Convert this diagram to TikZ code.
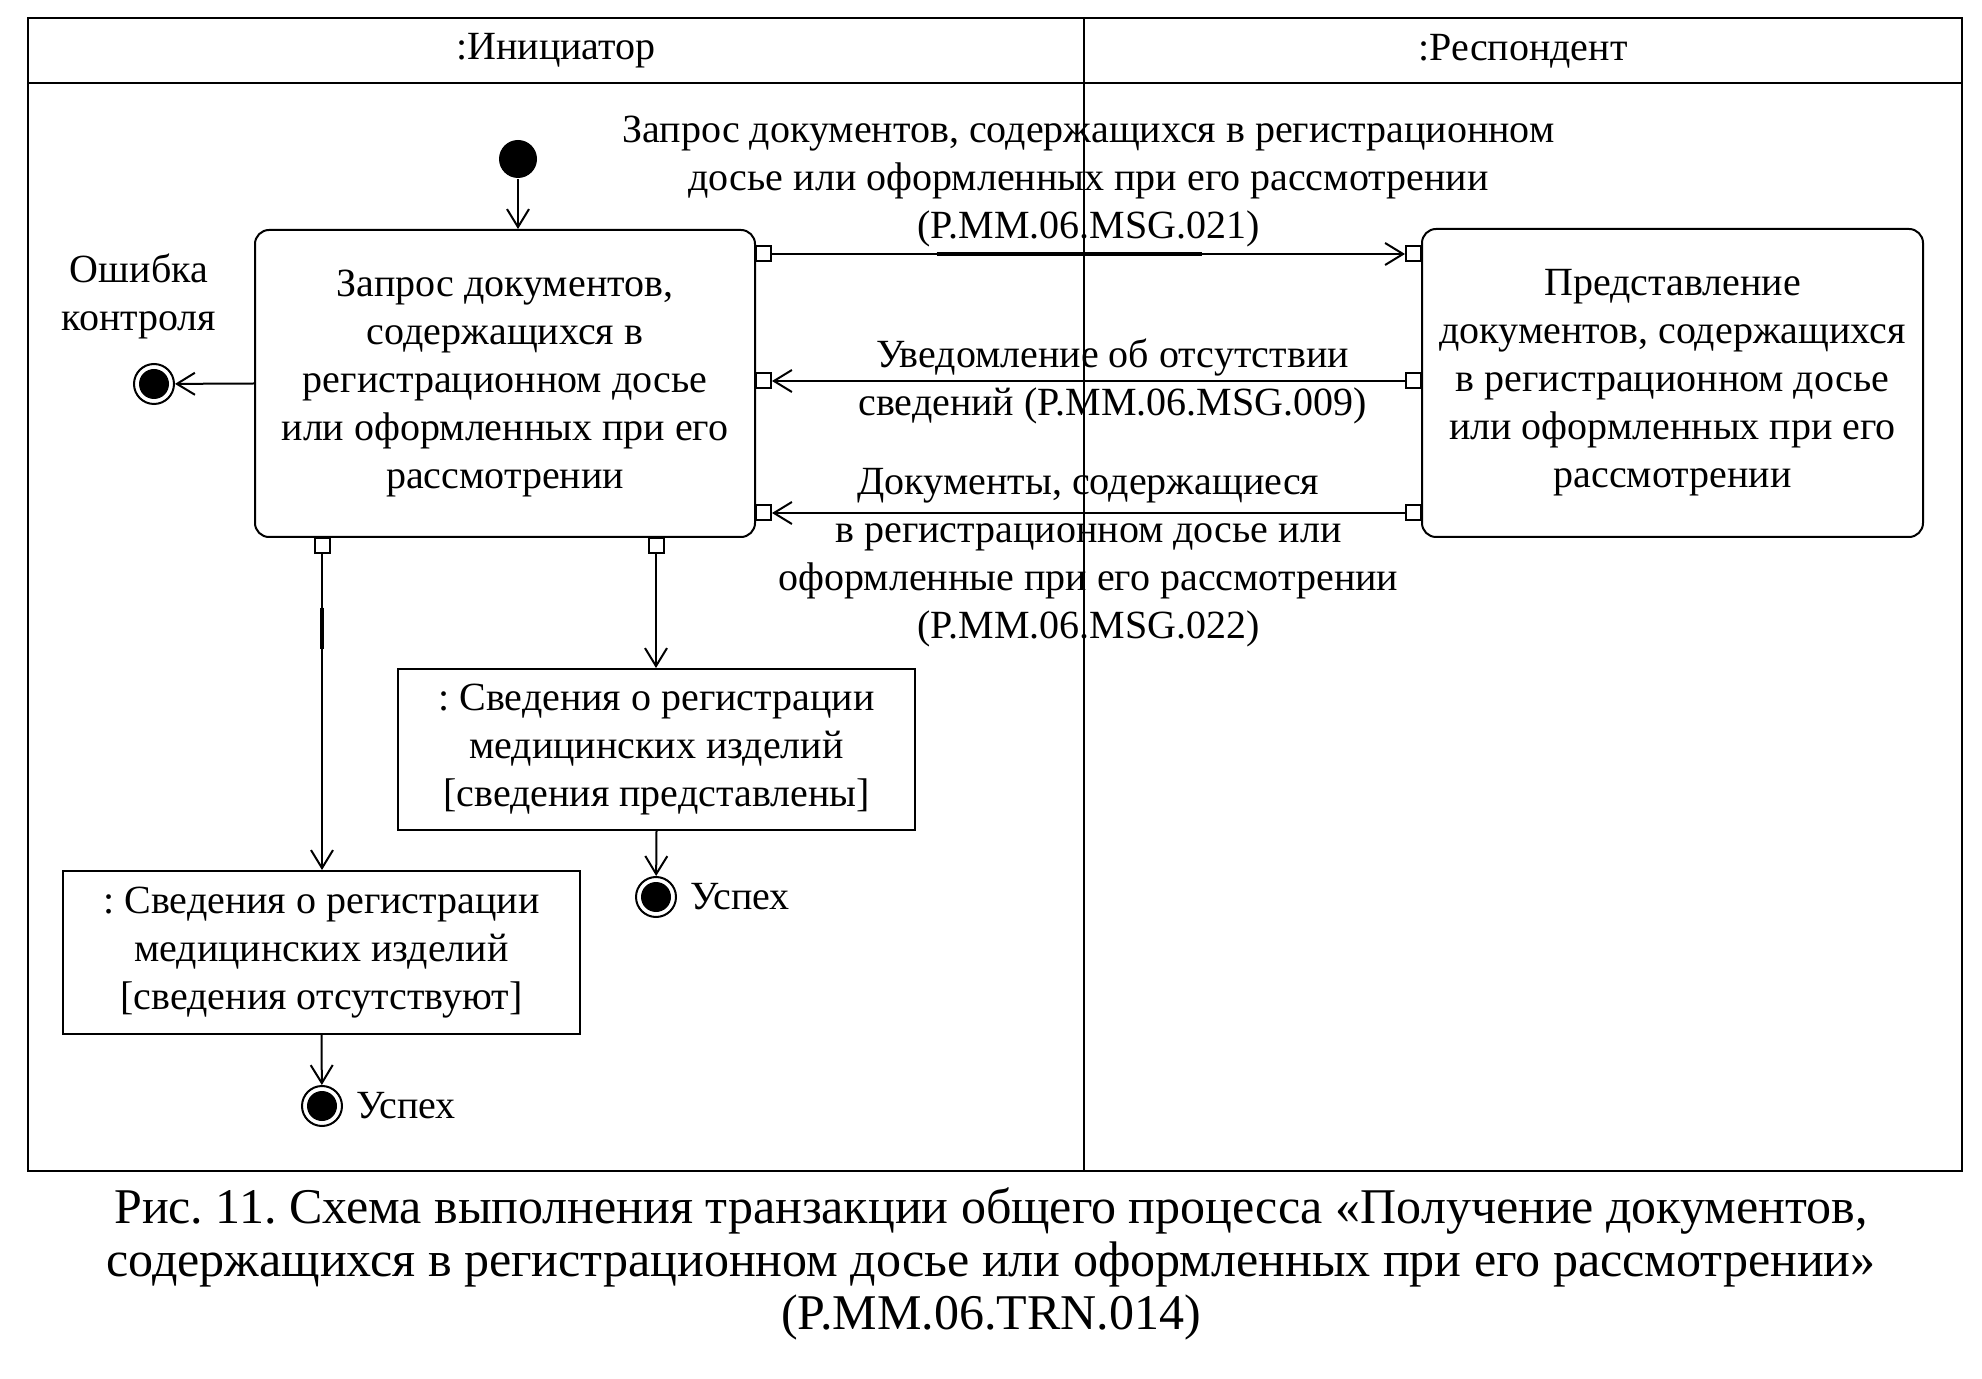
\documentclass[tikz,border=0pt]{standalone}
\usepackage{fontspec}
\setmainfont{Liberation Serif}
\usetikzlibrary{arrows.meta,positioning,calc}
\frenchspacing
\newcommand{\trnfont}{\fontsize{20}{24}\selectfont}
\tikzset{
  trnact/.style={draw,rounded corners=7pt,fill=white,align=center,inner sep=0pt,font=\trnfont},
  trnobj/.style={draw,fill=white,align=center,inner sep=0pt,font=\trnfont},
  trnpin/.style={draw,fill=white,minimum size=7.5pt,inner sep=0pt},
  trnstart/.style={circle,fill,minimum size=19pt,inner sep=0pt},
  trnend/.style={circle,draw,fill=white,minimum size=20pt,inner sep=0pt,path picture={\fill[black] (path picture bounding box.center) circle (7.5pt);}},
  trnflow/.style={-{Straight Barb[length=9pt,width=11pt]}},
  trnlabel/.style={align=center,inner sep=0pt,font=\trnfont},
}

\begin{document}
\begin{tikzpicture}[x=0.5pt,y=-0.5pt,line width=1pt]
\useasboundingbox (0,0) rectangle (1982,1379);
% swimlanes
\draw[line width=1.3pt] (28,18) rectangle (1962,1171);
\draw (28,83) -- (1962,83);
\draw (1084,18) -- (1084,1171);
\node[trnlabel] (lini) at (556,51) {:Инициатор};
\node[trnlabel] (lres) at (1523,51) {:Респондент};

% actions
\node[trnact,minimum width=250pt,minimum height=153.5pt] (qry) at (505,383.5) {Запрос документов,\\содержащихся в\\регистрационном досье\\или оформленных при его\\рассмотрении};
\node[trnact,minimum width=250.5pt,minimum height=154pt] (rsp) at (1672.5,383) {Представление\\документов, содержащихся\\в регистрационном досье\\или оформленных при его\\рассмотрении};

% pins
\node[trnpin,anchor=west] (qo1) at (755,254) {};
\node[trnpin,anchor=west] (qi2) at (755,381) {};
\node[trnpin,anchor=west] (qi3) at (755,513) {};
\node[trnpin,anchor=east] (ri1) at (1422,254) {};
\node[trnpin,anchor=east] (ro2) at (1422,381) {};
\node[trnpin,anchor=east] (ro3) at (1422,513) {};
\node[trnpin,anchor=north] (qb1) at (322,537) {};
\node[trnpin,anchor=north] (qb2) at (656,537) {};

% start
\node[trnstart] (ini) at (518,159) {};
\draw[trnflow] (ini) -- (ini |- qry.north);

% messages
\draw[trnflow] (qo1.east) -- node[trnlabel,yshift=36pt]{Запрос документов, содержащихся в регистрационном\\досье или оформленных при его рассмотрении\\(P.MM.06.MSG.021)} coordinate[pos=.26](u1) coordinate[pos=.68](u2) (ri1.west);
\draw[line width=2pt] (u1) -- (u2);
\draw[trnflow] (ro2.west) -- node[trnlabel,xshift=12pt]{Уведомление об отсутствии\\сведений (P.MM.06.MSG.009)} (qi2.east);
\draw[trnflow] (ro3.west) -- node[trnlabel,yshift=-22.5pt]{Документы, содержащиеся\\в регистрационном досье или\\оформленные при его рассмотрении\\(P.MM.06.MSG.022)} (qi3.east);

% control error
\node[trnend] (err) at (154,384) {};
\node[trnlabel] (errl) at (139,296) {Ошибка\\контроля};
\draw[trnflow] (qry.west) -- (err);

% objects
\node[trnobj,minimum width=258.5pt,minimum height=81.5pt] (obj1) at (321.5,952.5) {: Сведения о регистрации\\медицинских изделий\\{}[сведения отсутствуют]};
\node[trnobj,minimum width=258.5pt,minimum height=80.5pt] (obj2) at (656.5,749.5) {: Сведения о регистрации\\медицинских изделий\\{}[сведения представлены]};
\draw[trnflow] (qb1.south) -- coordinate[pos=.17](t1) coordinate[pos=.3](t2) (qb1.south |- obj1.north);
\draw[line width=2pt] (t1) -- (t2);
\draw[trnflow] (qb2.south) -- (qb2.south |- obj2.north);

% success
\node[trnend] (suc1) at (322,1106) {};
\node[trnlabel,right=6pt of suc1] (suc1l) {Успех};
\node[trnend] (suc2) at (656,897) {};
\node[trnlabel,right=6pt of suc2] (suc2l) {Успех};
\draw[trnflow] (obj1.south) -- (suc1);
\draw[trnflow] (obj2.south) -- (suc2);

% caption
\node[align=center,inner sep=0pt,font=\fontsize{25}{26.5}\selectfont] (cap) at (991,1264) {Рис. 11. Схема выполнения транзакции общего процесса «Получение документов,\\содержащихся в регистрационном досье или оформленных при его рассмотрении»\\(P.MM.06.TRN.014)};
\end{tikzpicture}
\end{document}
